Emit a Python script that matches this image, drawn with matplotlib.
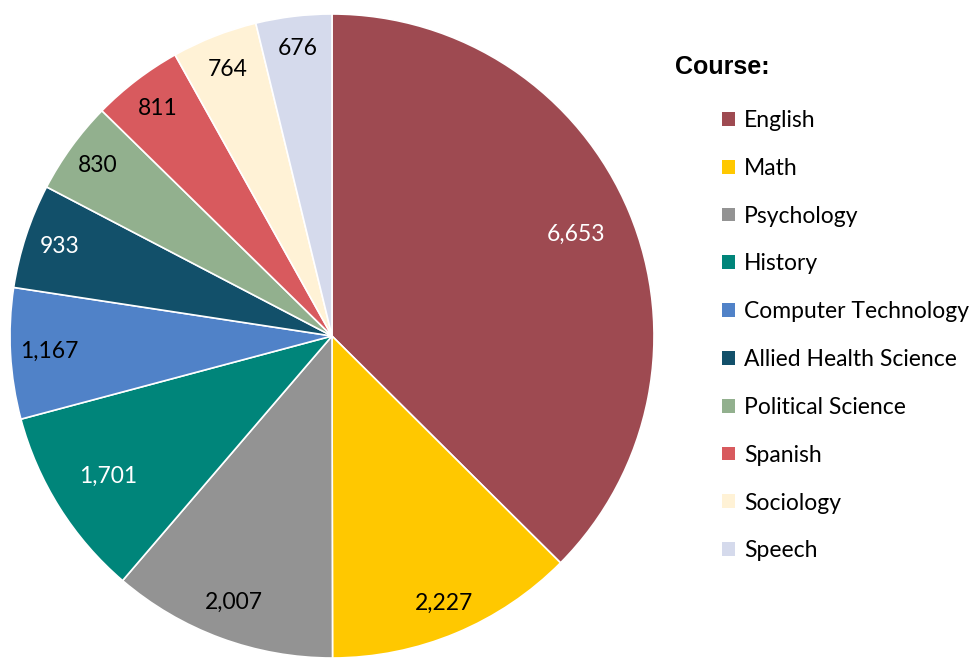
import matplotlib
matplotlib.use("Agg")
import matplotlib.pyplot as plt
from matplotlib.patches import Patch
import numpy as np

courses = ["English", "Math", "Psychology", "History", "Computer Technology",
           "Allied Health Science", "Political Science", "Spanish", "Sociology", "Speech"]
enrollments = [6653, 2227, 2007, 1701, 1167, 933, 830, 811, 764, 676]
colors = ["#9E4A51", "#FFC800", "#939393", "#00857A", "#5082C8",
          "#12506A", "#92B08E", "#D85A5E", "#FFF2D6", "#D5DAEC"]
label_colors = ["white", "black", "black", "white", "black",
                "white", "black", "black", "black", "black"]
label_radii = [0.82, 0.90, 0.88, 0.82, 0.88, 0.89, 0.90, 0.89, 0.89, 0.90]

plt.rcParams['font.family'] = ['Lato', 'DejaVu Sans']

W, H = 971, 658
fig = plt.figure(figsize=(W / 100, H / 100), dpi=100)
cx, cy, r = 332, 336, 322
ax = fig.add_axes([(cx - r) / W, (H - cy - r) / H, 2 * r / W, 2 * r / H])

wedges, _ = ax.pie(enrollments, colors=colors, startangle=90, counterclock=False,
                   radius=1.0,
                   wedgeprops=dict(edgecolor="white", linewidth=1.2))
for w, v, c, rr in zip(wedges, enrollments, label_colors, label_radii):
    ang = np.deg2rad((w.theta1 + w.theta2) / 2)
    ax.text(rr * np.cos(ang), rr * np.sin(ang), f"{v:,}", color=c, fontsize=16.5,
            ha="center", va="center")
ax.set_xlim(-1, 1)
ax.set_ylim(-1, 1)
ax.set_aspect("equal")
ax.axis("off")

fig.text(675 / W, 1 - 67 / H, "Course:", fontsize=18, fontweight="bold",
         family=["Liberation Sans"], ha="left", va="center")

handles = [Patch(facecolor=c, edgecolor="none") for c in colors]
leg = fig.legend(handles, courses, loc="upper left",
                 bbox_to_anchor=(722 / W, 1 - 110 / H), frameon=False,
                 fontsize=16.5, handlelength=0.55, handleheight=0.55,
                 handletextpad=0.4, labelspacing=1.17, borderpad=0, borderaxespad=0)

fig.savefig("out.png", dpi=100)
